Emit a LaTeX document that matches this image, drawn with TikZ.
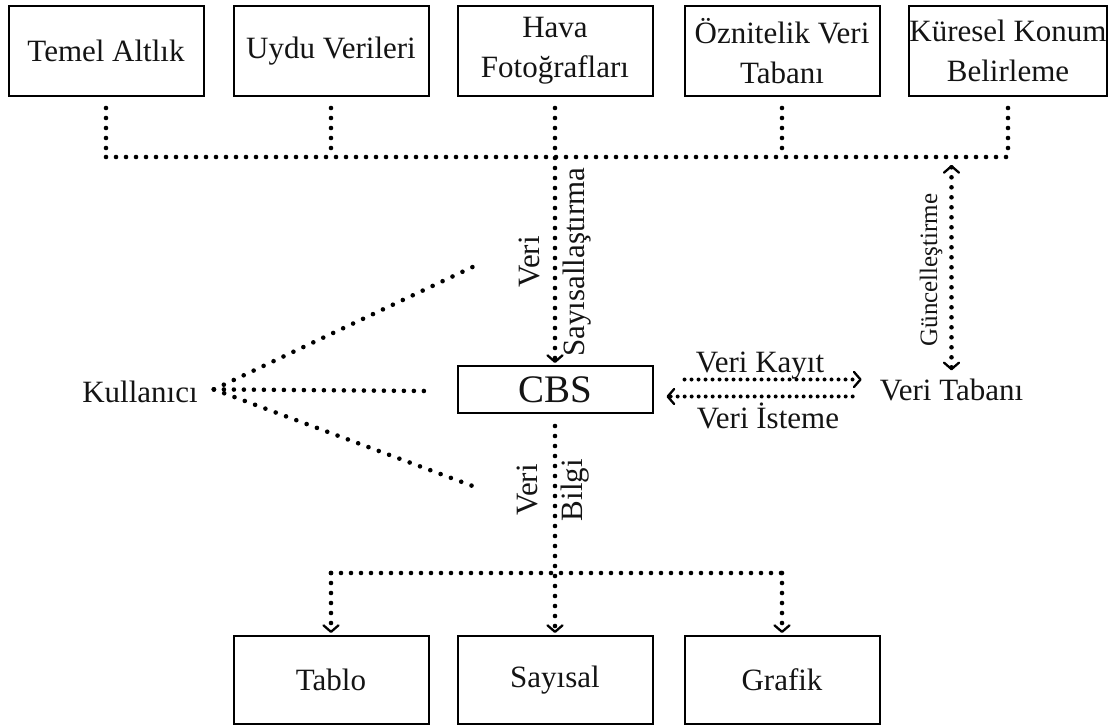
\documentclass[tikz,border=0pt]{standalone}
\usepackage{fontspec}
\setmainfont{Liberation Serif}
\usetikzlibrary{arrows.meta,calc}
\begin{document}
\begin{tikzpicture}[x=1pt,y=-1pt,
  box/.style={draw, line width=2pt, minimum width=195pt, align=center,
    inner sep=0pt, text=black!92, font=\fontsize{31}{40}\selectfont},
  topbox/.style={box, minimum height=90pt},
  botbox/.style={box, minimum height=88pt},
  lbl/.style={inner sep=0pt, text=black!92, font=\fontsize{31}{36}\selectfont},
  dotlink/.style={line width=4.6pt, line cap=round, dash pattern=on 0pt off 10pt},
  finelink/.style={line width=4pt, line cap=round, dash pattern=on 0pt off 7pt},
  chev/.style={-{Straight Barb[length=6.5pt,width=15pt,line width=2.3pt,round]}},
  dchev/.style={{Straight Barb[length=6.5pt,width=15pt,line width=2.3pt,round]}-{Straight Barb[length=6.5pt,width=15pt,line width=2.3pt,round]}}
]
\useasboundingbox (0,0) rectangle (1109,726);

% sources
\node[topbox] (t1) at (106,51) {Temel Altlık};
\node[topbox] (t2) at (331,51) {Uydu Verileri};
\node[topbox] (t3) at (555,51) {Hava\\Fotoğrafları};
\node[topbox] (t4) at (782,51) {Öznitelik Veri\\Tabanı};
\node[topbox] (t5) at (1008,51) {Küresel Konum\\Belirleme};

% core system
\node[box, minimum height=47pt, font=\fontsize{39}{40}\selectfont] (cbs) at (555,389.5) {CBS};
\node[lbl, anchor=base] (vt) at (951.5,400) {Veri Tabanı};
\node[lbl, anchor=base] (kul) at (140,402) {Kullanıcı};

% outputs
\node[botbox] (tablo) at (331,680) {Tablo};
\node[botbox] (sayisal) at (555,680) {Sayısal};
\node[botbox] (grafik) at (782,680) {Grafik};

% bus lines
\coordinate (bus) at (0,157);
\coordinate (bus2) at (0,573);

% upper collector
\foreach \n in {t1,t2,t4,t5}
  \draw[dotlink] ($(\n.south)+(0,11)$) -- (\n |- bus);
\draw[dotlink] (t1 |- bus) -- (t5 |- bus);
\draw[dotlink,chev,shorten >=2pt] ($(t3.south)+(0,11)$) -- (cbs.north);
\node[lbl, rotate=90, align=center, font=\fontsize{31}{45}\selectfont] (sl) at (555,262) {Veri\\Sayısallaştırma};

% database link
\draw[dotlink,dchev,shorten >=8pt] ($(vt.north |- bus)+(0,8)$) -- (vt.north);
\node[lbl, rotate=90, font=\fontsize{25}{30}\selectfont] (gl) at (931,270) {Güncelleştirme};
\draw[finelink,chev] ($(cbs.east)+(31,-10)$) -- ($(vt.west)+(-18,-10)$);
\draw[finelink,chev] ($(vt.west)+(-27,7)$) -- ($(cbs.east)+(13,7)$);
\node[lbl, anchor=base] (vk) at (760,372) {Veri Kayıt};
\node[lbl, anchor=base] (vi) at (768,428) {Veri İsteme};

% user
\coordinate (ks) at ($(kul.east)+(16,-2)$);
\coordinate (ka) at (481,263);
\coordinate (kb) at (427,391);
\coordinate (kc) at (478,488);
\draw[dotlink, dash pattern=on 0pt off 11pt] (ks) -- (ka);
\draw[dotlink] (ks) -- (kb);
\draw[dotlink, dash pattern=on 0pt off 11pt] (ks) -- (kc);

% lower distributor
\draw[dotlink,chev,shorten >=2pt] ($(cbs.south)+(0,12)$) -- (sayisal.north);
\draw[dotlink] (tablo |- bus2) -- (grafik |- bus2);
\draw[dotlink,chev,shorten >=2pt] (tablo |- bus2) -- (tablo.north);
\draw[dotlink,chev,shorten >=2pt] (grafik |- bus2) -- (grafik.north);
\node[lbl, rotate=90, align=center, font=\fontsize{31}{45}\selectfont] (bl) at (553,490) {Veri\\Bilgi};
\end{tikzpicture}
\end{document}
